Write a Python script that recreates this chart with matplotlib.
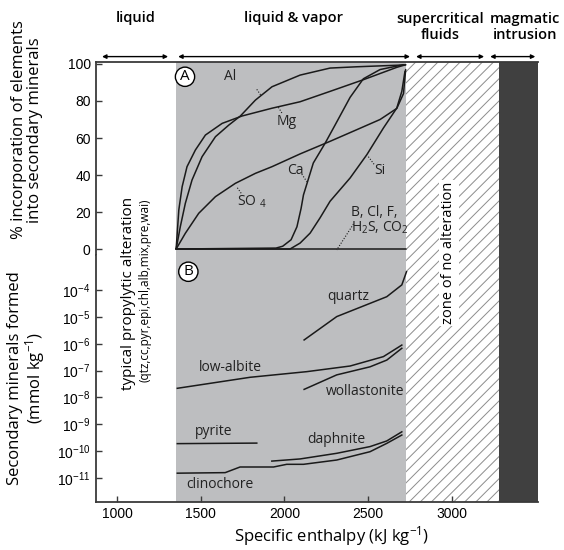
import math
import matplotlib
matplotlib.use("Agg")
import matplotlib.pyplot as plt
from matplotlib import ticker

plt.rcParams["mathtext.fontset"] = "custom"
plt.rcParams["mathtext.rm"] = "Liberation Sans"
plt.rcParams["hatch.linewidth"] = 0.7

LABEL_FONT = "Open Sans"
TICK_FONT = "Liberation Sans"

# ---- enthalpy ranges of the fluid regimes (kJ/kg) ----
h_min, h_max = 871, 3516
h_boil = 1353          # start of liquid + vapor field
h_supercrit = 2727     # start of supercritical fluids
h_intrusion = 3285     # magmatic intrusion

# ---- panel A: % incorporation of elements into secondary minerals ----
mg_h = [1353, 1369, 1389, 1418, 1468, 1528, 1628, 1747, 1926, 2094, 2273, 2472, 2672, 2725]
mg_pct = [0, 21.1, 33.7, 44.5, 53.5, 61.6, 67.9, 71.9, 76.1, 79.6, 85.2, 91.5, 98.2, 99.6]

al_h = [1353, 1378, 1408, 1448, 1508, 1588, 1668, 1737, 1827, 1926, 2094, 2273, 2433, 2725]
al_pct = [0, 12.1, 24.7, 37.3, 49.9, 60.7, 67.0, 71.9, 80.5, 87.7, 94.0, 97.8, 98.5, 99.5]

so4_h = [1353, 1408, 1488, 1588, 1707, 1827, 1926, 2094, 2273, 2433, 2572, 2672, 2712, 2725]
so4_pct = [0, 8.5, 19.3, 28.3, 35.5, 40.9, 44.5, 51.4, 58.2, 64.5, 70.0, 76.0, 84.0, 97.0]

ca_h = [1353, 1950, 1990, 2040, 2075, 2100, 2114, 2173, 2243, 2303, 2393, 2472, 2572, 2711]
ca_pct = [0, 0.5, 1.5, 5.0, 12.0, 22.0, 29.2, 46.5, 57.1, 67.0, 82.0, 92.0, 97.0, 99.6]

si_h = [1353, 2034, 2094, 2154, 2213, 2273, 2393, 2493, 2592, 2672, 2702, 2721]
si_pct = [0, 0, 3.2, 8.6, 16.8, 25.8, 38.4, 51.0, 65.4, 76.2, 85.2, 96.1]

volatiles_h = [1353, 2727]
volatiles_pct = [0, 0]

# ---- panel B: secondary minerals formed (log10 mmol/kg) ----
quartz_h = [2118, 2313, 2612, 2702, 2730]
quartz_log = [-5.86, -4.99, -4.25, -3.81, -3.32]

albite_h = [1360, 1795, 2134, 2393, 2592, 2702]
albite_log = [-7.66, -7.25, -7.04, -6.83, -6.48, -6.05]

wollastonite_h = [2118, 2313, 2512, 2612, 2702]
wollastonite_log = [-7.70, -7.16, -6.86, -6.61, -6.17]

pyrite_h = [1360, 1835]
pyrite_log = [-9.72, -9.70]

daphnite_h = [1925, 2094, 2313, 2512, 2612, 2702]
daphnite_log = [-10.37, -10.29, -10.08, -9.83, -9.62, -9.28]

clinochore_h = [1360, 1646, 1735, 1935, 2014, 2114, 2313, 2512, 2612, 2702]
clinochore_log = [-10.82, -10.80, -10.59, -10.59, -10.49, -10.49, -10.33, -10.02, -9.71, -9.40]

pct_ticks = [0, 20, 40, 60, 80, 100]
log_ticks = [-4, -5, -6, -7, -8, -9, -10, -11]
h_ticks = [1000, 1500, 2000, 2500, 3000]

LINE = "#1a1a1a"
GRAY = "#bdbec0"
DARK = "#404040"
SPINE = "#3a3a3a"

fig = plt.figure(figsize=(5.64, 5.5), dpi=100)
W, H = 564, 550
left_px, right_px = 95.5, 538
top_px, mid_px, bot_px = 62, 255, 502
axA = fig.add_axes([left_px / W, 1 - mid_px / H, (right_px - left_px) / W, (mid_px - top_px) / H])
axB = fig.add_axes([left_px / W, 1 - bot_px / H, (right_px - left_px) / W, (bot_px - mid_px) / H])

for ax in (axA, axB):
    ax.set_xlim(h_min, h_max)
    ax.axvspan(h_boil, h_supercrit, color=GRAY, lw=0, zorder=0)
    ax.axvspan(h_supercrit, h_intrusion, facecolor="white", edgecolor="#8c8c8c",
               hatch="///", lw=0, zorder=0)
    ax.axvspan(h_intrusion, h_max, color=DARK, lw=0, zorder=0)
    ax.spines["right"].set_visible(False)
    for s in ax.spines.values():
        s.set_color(SPINE)
        s.set_linewidth(1.3)
    ax.tick_params(direction="in", length=4, width=1, colors=SPINE, labelcolor="black",
                   labelsize=10)

axA.spines["bottom"].set_visible(False)
axB.spines["top"].set_visible(False)

# panel A
axA.set_ylim(-3.24, 101.08)
axA.set_yticks(pct_ticks)
axA.tick_params(axis="x", bottom=False, labelbottom=False)
for lab in axA.get_yticklabels():
    lab.set_fontfamily(TICK_FONT)

for h, p in [(mg_h, mg_pct), (al_h, al_pct), (so4_h, so4_pct), (ca_h, ca_pct),
             (si_h, si_pct), (volatiles_h, volatiles_pct)]:
    axA.plot(h, p, color=LINE, lw=1.1, solid_capstyle="round", solid_joinstyle="round")


def leader(ax, p0, p1):
    ax.plot([p0[0], p1[0]], [p0[1], p1[1]], color=LINE, lw=0.8, ls=(0, (1, 1.5)))


txt = dict(fontfamily=LABEL_FONT, fontsize=10, color="#222222")
axA.text(1675, 93, "Al", ha="center", va="center", **txt)
leader(axA, (1835, 86.3), (1861, 82.9))
axA.text(2014, 68.8, "Mg", ha="center", va="center", **txt)
leader(axA, (1964, 76.6), (1990, 72.8))
axA.text(2064, 42.7, "Ca", ha="center", va="center", **txt)
leader(axA, (2104, 40.5), (2134, 36.4))
axA.text(2572, 42.7, "Si", ha="center", va="center", **txt)
leader(axA, (2502, 49.9), (2536, 45.8))
axA.text(1805, 25.6, r"SO $\mathregular{_4}$", ha="center", va="center", **txt)
leader(axA, (1719, 33.1), (1745, 29.7))
axA.text(2400, 15.5, "B, Cl, F,\n" + r"H$\mathregular{_2}$S, CO$\mathregular{_2}$",
         ha="left", va="center", linespacing=1.0, **txt)
leader(axA, (2413, 13.5), (2313, -0.5))

circ = dict(boxstyle="circle,pad=0.14", fc="white", ec="black", lw=1.0)
axA.text(1406, 93.1, "A", ha="center", va="center", fontfamily=LABEL_FONT,
         fontsize=11, bbox=circ)

# panel B
axB.set_yscale("log")
axB.set_ylim(10 ** -11.893, 10 ** -2.697)
axB.yaxis.set_major_locator(ticker.FixedLocator([10.0 ** k for k in log_ticks]))
axB.yaxis.set_minor_locator(ticker.NullLocator())
axB.yaxis.set_major_formatter(ticker.FuncFormatter(
    lambda v, p: r"$\mathregular{10^{-%d}}$" % round(-math.log10(v))))
axB.set_xticks(h_ticks)
for lab in axB.get_xticklabels() + axB.get_yticklabels():
    lab.set_fontfamily(TICK_FONT)

for h, lg in [(quartz_h, quartz_log), (albite_h, albite_log),
              (wollastonite_h, wollastonite_log), (pyrite_h, pyrite_log),
              (daphnite_h, daphnite_log), (clinochore_h, clinochore_log)]:
    axB.plot(h, [10.0 ** v for v in lg], color=LINE, lw=1.1, solid_joinstyle="round")

axB.text(2383, 10 ** -4.25, "quartz", ha="center", va="center", **txt)
axB.text(1675, 10 ** -6.89, "low-albite", ha="center", va="center", **txt)
axB.text(2483, 10 ** -7.79, "wollastonite", ha="center", va="center", **txt)
axB.text(1576, 10 ** -9.28, "pyrite", ha="center", va="center", **txt)
axB.text(2313, 10 ** -9.58, "daphnite", ha="center", va="center", **txt)
axB.text(1616, 10 ** -11.23, "clinochore", ha="center", va="center", **txt)
axB.text(1426, 10 ** -3.32, "B", ha="center", va="center", fontfamily=LABEL_FONT,
         fontsize=11, bbox=circ)

# regime headers with double-headed arrows
arrows = [(910, 1305), (1365, 2751), (2787, 3194), (3230, 3500)]
for x0, x1 in arrows:
    axA.annotate("", xy=(x0, 1.028), xytext=(x1, 1.028),
                 xycoords=("data", "axes fraction"), textcoords=("data", "axes fraction"),
                 arrowprops=dict(arrowstyle="<|-|>", color="black", lw=1.0,
                                 mutation_scale=6, shrinkA=0, shrinkB=0),
                 annotation_clip=False)

hdr = dict(fontfamily=LABEL_FONT, fontsize=10.5, fontweight="semibold", ha="center",
           va="center", linespacing=1.1)
fig.text(136 / W, 1 - 18 / H, "liquid", **hdr)
fig.text(294 / W, 1 - 18 / H, "liquid & vapor", **hdr)
fig.text(440 / W, 1 - 27 / H, "supercritical\nfluids", **hdr)
fig.text(525 / W, 1 - 27 / H, "magmatic\nintrusion", **hdr)

# vertical annotations
fig.text(128 / W, 1 - 293 / H, "typical propylytic alteration", rotation=90,
         ha="center", va="center", fontfamily=LABEL_FONT, fontsize=11)
fig.text(145 / W, 1 - 290 / H, "(qtz,cc,pyr,epi,chl,alb,mix,pre,wai)", rotation=90,
         ha="center", va="center", fontfamily=LABEL_FONT, fontsize=8.5)
fig.text(449 / W, 1 - 253 / H, "zone of no alteration", rotation=90, ha="center",
         va="center", fontfamily=LABEL_FONT, fontsize=10.5,
         bbox=dict(boxstyle="square,pad=0.15", fc="white", ec="none"))

# axis titles
ylab = dict(fontfamily=LABEL_FONT, fontsize=12, rotation=90, ha="center", va="center",
            multialignment="center", linespacing=1.05)
fig.text(27 / W, 1 - 130 / H, "% incorporation of elements\ninto secondary minerals", **ylab)
fig.text(27 / W, 1 - 378 / H,
         "Secondary minerals formed\n" + r"(mmol kg$\mathregular{^{-1}}$)", **ylab)
fig.text(332 / W, 1 - 536 / H, r"Specific enthalpy (kJ kg$\mathregular{^{-1}}$)",
         ha="center", va="center", fontfamily=LABEL_FONT, fontsize=12)

fig.savefig("out.png", dpi=100)
